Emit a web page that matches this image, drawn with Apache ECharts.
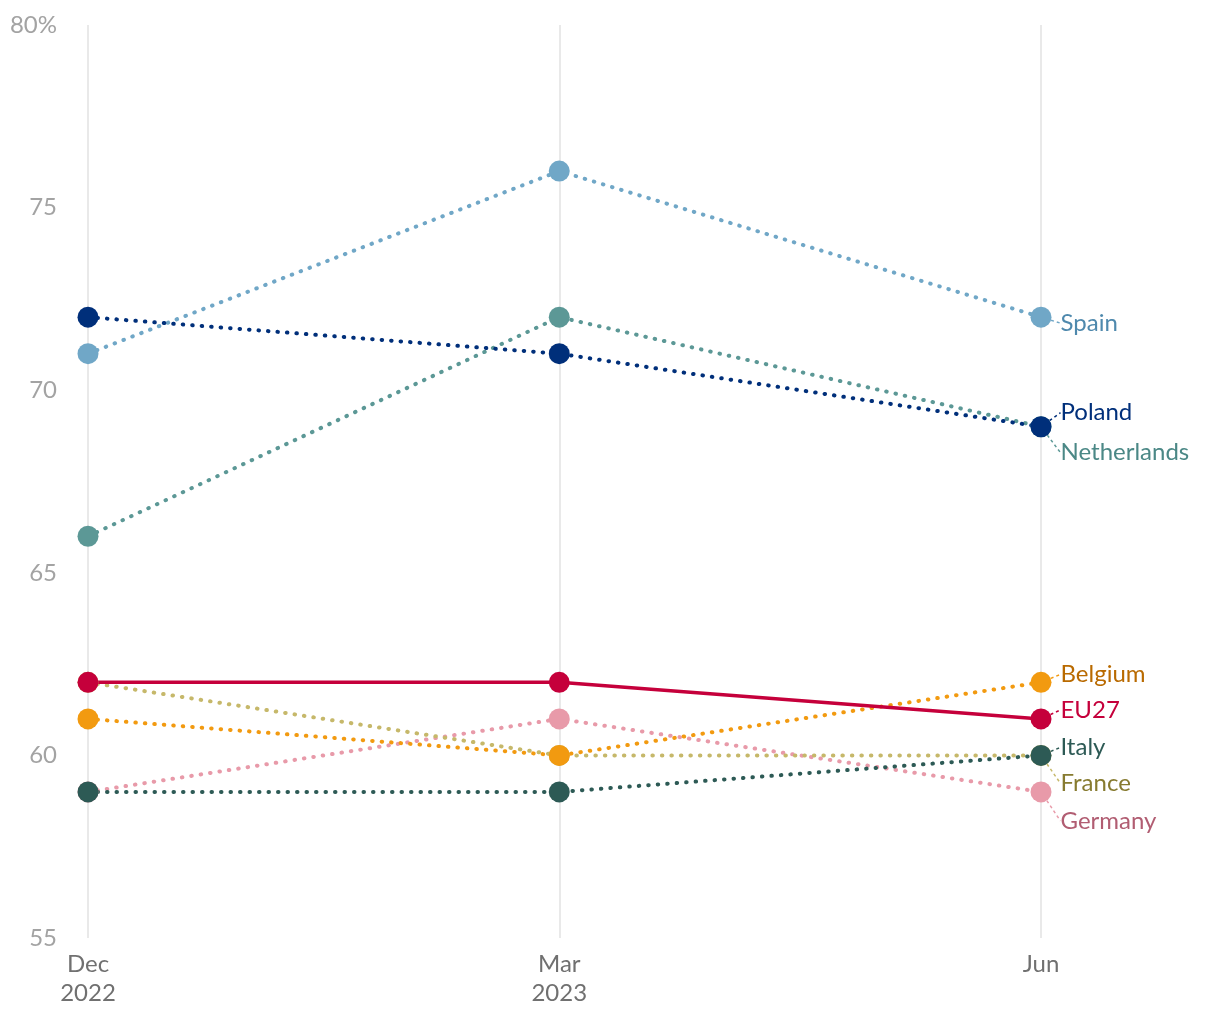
<!DOCTYPE html>
<html>
<head>
<meta charset="utf-8">
<script src="https://cdn.jsdelivr.net/npm/echarts@6/dist/echarts.min.js"></script>
<style>html,body{margin:0;padding:0;background:#fff}#c{width:1220px;height:1020px}</style>
</head>
<body>
<div id="c"></div>
<script>
const dates = ['2022-12-01', '2023-03-01', '2023-06-01'];
const xTickLabels = ['Dec\n2022', 'Mar\n2023', 'Jun'];
const yTicks = [55, 60, 65, 70, 75, 80];

const spain = [71, 76, 72];
const netherlands = [66, 72, 69];
const germany = [59, 61, 59];
const france = [62, 60, 60];
const belgium = [61, 60, 62];
const italy = [59, 59, 60];
const poland = [72, 71, 69];
const eu27 = [62, 62, 61];

const seriesDefs = [
  {name: 'Spain', data: spain, color: '#70a7c7', text: '#4f89ad', dy: 6, dashed: true},
  {name: 'Netherlands', data: netherlands, color: '#5c9896', text: '#4b8886', dy: 26, dashed: true},
  {name: 'Germany', data: germany, color: '#e89aa9', text: '#b15d72', dy: 29, dashed: true},
  {name: 'France', data: france, color: '#c6b86a', text: '#877b30', dy: 28, dashed: true},
  {name: 'Belgium', data: belgium, color: '#f29a10', text: '#b96a00', dy: -8, dashed: true},
  {name: 'Italy', data: italy, color: '#2d5a55', text: '#2d5a55', dy: -8, dashed: true},
  {name: 'Poland', data: poland, color: '#002f7a', text: '#002f7a', dy: -14, dashed: true},
  {name: 'EU27', data: eu27, color: '#c5003b', text: '#c5003b', dy: -9, dashed: false}
];

const DAY = 86400000;
const t0 = new Date(dates[0] + 'T00:00:00Z').getTime();
const xs = dates.map(d => Math.round((new Date(d + 'T00:00:00Z').getTime() - t0) / DAY));
const labelMap = {};
xs.forEach((x, i) => labelMap[x] = xTickLabels[i]);

const chart = echarts.init(document.getElementById('c'));
chart.setOption({
  animation: false,
  textStyle: {fontFamily: 'Lato'},
  grid: {left: 88, right: 179, top: 25, bottom: 82, containLabel: false},
  xAxis: {
    type: 'value',
    min: xs[0],
    max: xs[xs.length - 1],
    axisLine: {show: false},
    axisTick: {show: false, customValues: xs},
    axisLabel: {
      customValues: xs,
      formatter: v => labelMap[v] || '',
      color: '#707070', fontSize: 24, fontFamily: 'Lato', lineHeight: 29, margin: 12
    },
    splitLine: {show: true, lineStyle: {color: '#e2e2e2', width: 1.5}}
  },
  yAxis: {
    type: 'value', min: yTicks[0], max: yTicks[yTicks.length - 1], interval: 5,
    axisLine: {show: false}, axisTick: {show: false},
    splitLine: {show: false},
    axisLabel: {
      color: '#a3a3a3', fontSize: 24, fontFamily: 'Lato', margin: 31,
      formatter: v => v === 80 ? '80%' : String(v)
    }
  },
  series: seriesDefs.map(s => ({
    name: s.name,
    type: 'line',
    data: s.data.map((v, i) => {
      const item = {value: [xs[i], v]};
      if (i === s.data.length - 1) {
        item.label = {
          show: true, position: 'right', distance: 9,
          formatter: s.name, color: s.text, fontSize: 24, fontFamily: 'Lato'
        };
      }
      return item;
    }),
    symbol: 'circle', symbolSize: 21,
    itemStyle: {color: s.color},
    lineStyle: s.dashed
      ? {color: s.color, width: 4, type: [0.5, 9], cap: 'round'}
      : {color: s.color, width: 3.5},
    label: {show: false},
    labelLine: {show: true, lineStyle: {color: s.color, width: 1.5, type: [3, 3]}},
    labelLayout: {dy: s.dy},
    emphasis: {disabled: true}
  }))
});
</script>
</body>
</html>
